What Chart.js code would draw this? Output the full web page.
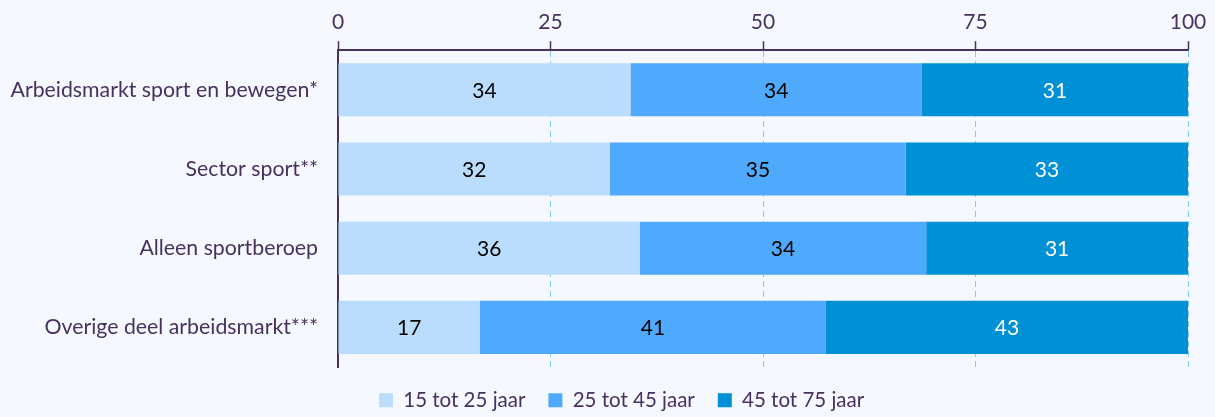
<!DOCTYPE html>
<html>
<head>
<meta charset="utf-8">
<script src="https://cdn.jsdelivr.net/npm/chart.js@4"></script>
<style>
  html, body { margin: 0; padding: 0; background: #f5f8fe; }
  #wrap { width: 1215px; height: 417px; }
</style>
</head>
<body>
<div id="wrap"><canvas id="chart" width="1215" height="417"></canvas></div>
<script>
// Leeftijdsverdeling per arbeidsmarkt (%)
const categories = [
    'Arbeidsmarkt sport en bewegen*',
    'Sector sport**',
    'Alleen sportberoep',
    'Overige deel arbeidsmarkt***'
];
const seriesNames = ['15 tot 25 jaar', '25 tot 45 jaar', '45 tot 75 jaar'];
const age15to25 = [34.4, 32.0, 35.5, 16.7];
const age25to45 = [34.3, 34.8, 33.7, 40.7];
const age45to75 = [31.3, 33.2, 30.8, 42.6];
const xTicks = [0, 25, 50, 75, 100];

const purple = '#47325f';
const colors = ['#badcfd', '#4fa9fd', '#0090d5'];
const labelColors = ['#000000', '#000000', '#ffffff'];
const fontSize = 21;

// draw the rounded value in the middle of every segment
const segmentLabels = {
    id: 'segmentLabels',
    afterDatasetsDraw(chart) {
        const ctx = chart.ctx;
        ctx.save();
        ctx.font = fontSize + 'px Lato';
        ctx.textAlign = 'center';
        ctx.textBaseline = 'middle';
        chart.data.datasets.forEach((ds, i) => {
            const meta = chart.getDatasetMeta(i);
            meta.data.forEach((bar, j) => {
                const cx = (bar.x + bar.base) / 2;
                ctx.fillStyle = labelColors[i];
                ctx.fillText(Math.round(ds.data[j]), cx, bar.y + 1);
            });
        });
        ctx.restore();
    }
};

// fixed legend height, and legend nudged to start under x = 379
const legendPlace = {
    id: 'legendPlace',
    beforeLayout(chart) {
        const lg = chart.legend;
        if (lg && !lg._patched) {
            const fit = lg.fit;
            lg.fit = function () {
                fit.call(this);
                this.height = 50;
            };
            const draw = lg.draw;
            lg.draw = function () {
                const first = this.legendHitBoxes && this.legendHitBoxes[0];
                const dx = first ? 379 - first.left : 0;
                this.ctx.save();
                this.ctx.translate(dx, 0);
                draw.call(this);
                this.ctx.restore();
            };
            lg._patched = true;
        }
    }
};

new Chart(document.getElementById('chart'), {
    type: 'bar',
    data: {
        labels: categories,
        datasets: [
            { label: seriesNames[0], data: age15to25, backgroundColor: colors[0] },
            { label: seriesNames[1], data: age25to45, backgroundColor: colors[1] },
            { label: seriesNames[2], data: age45to75, backgroundColor: colors[2] }
        ]
    },
    options: {
        indexAxis: 'y',
        responsive: false,
        animation: false,
        layout: { padding: { left: 0, right: 27, top: 4, bottom: 0 } },
        datasets: { bar: { categoryPercentage: 0.67, barPercentage: 1.0, borderWidth: 0 } },
        scales: {
            x: {
                position: 'top',
                stacked: true,
                min: 0,
                max: 100,
                afterBuildTicks: (axis) => { axis.ticks = xTicks.map(v => ({ value: v })); },
                ticks: { color: purple, font: { family: 'Lato', size: fontSize }, padding: 6 },
                grid: {
                    color: '#7fcdf5',
                    lineWidth: 1,
                    tickColor: purple,
                    tickLength: 9,
                    tickWidth: 1.5
                },
                border: { display: true, color: purple, width: 2, dash: [6, 4] }
            },
            y: {
                stacked: true,
                afterFit: (axis) => { axis.width = 338; },
                ticks: { color: purple, font: { family: 'Lato', size: 21.3 }, padding: 20 },
                grid: { display: false, drawTicks: false },
                border: { display: true, color: purple, width: 2 }
            }
        },
        plugins: {
            legend: {
                position: 'bottom',
                labels: {
                    color: purple,
                    font: { family: 'Lato', size: 20.5 },
                    boxWidth: 14,
                    boxHeight: 14,
                    padding: 23
                }
            },
            tooltip: { enabled: false }
        }
    },
    plugins: [segmentLabels, legendPlace]
});
</script>
</body>
</html>
